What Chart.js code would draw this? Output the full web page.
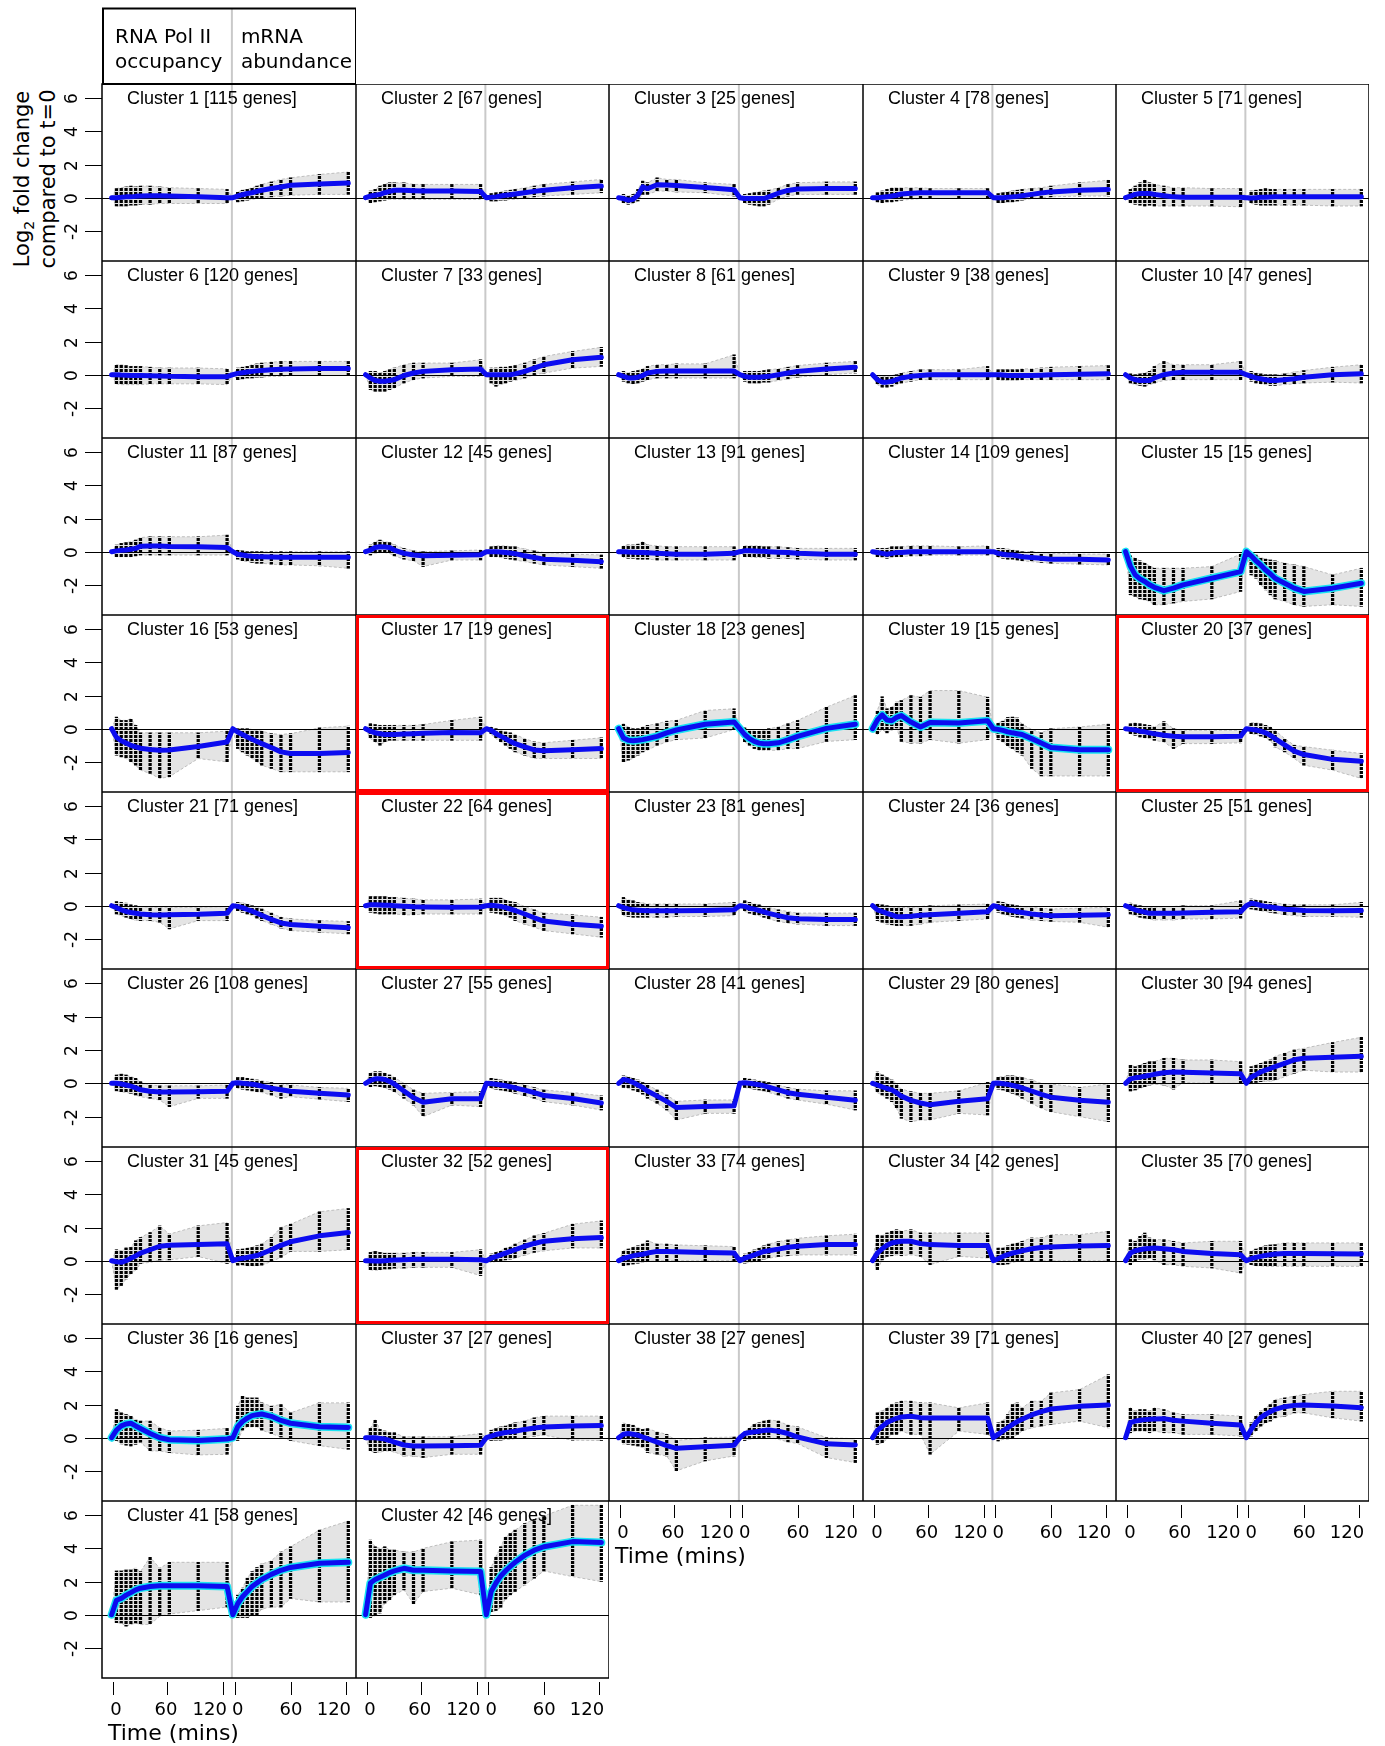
<!DOCTYPE html>
<html>
<head>
<meta charset="utf-8">
<script src="https://cdn.jsdelivr.net/npm/chart.js@4.4.1/dist/chart.umd.min.js"></script>
<style>
  body { margin: 0; background: #fff; width: 1385px; height: 1746px; position: relative; overflow: hidden; }
  canvas { position: absolute; }
  #ytitle {
    position: absolute; left: 35px; top: 179px;
    transform: translate(-50%, -50%) rotate(-90deg);
    font: 21px "DejaVu Sans", sans-serif; line-height: 26px;
    text-align: center; white-space: nowrap; color: #000;
  }
  #ytitle sub { font-size: 14px; line-height: 0; }
</style>
</head>
<body>
<div id="ytitle">Log<sub>2</sub> fold change<br>compared to t=0</div>
<script>
// sampling times (mins), same for Pol II occupancy and mRNA abundance
const sampleMinutes = [0, 5, 10, 15, 20, 25, 30, 40, 50, 60, 90, 120];
const mrnaShift = 126;   // mRNA block sits to the right of the Pol II block
const splitX = 125;      // grey divider between the two blocks

const geneCounts = [115, 67, 25, 78, 71, 120, 33, 61, 38, 47, 87, 45, 91, 109, 15, 53, 19, 23, 15, 37, 71,
  64, 81, 36, 51, 108, 55, 41, 80, 94, 45, 52, 74, 42, 70, 16, 27, 27, 71, 27, 58, 46];

// cluster mean log2 fold change: 12 Pol II values then 12 mRNA values
const meanFold = [
  [0, 0, 0.02, 0.05, 0.05, 0.08, 0.1, 0.12, 0.12, 0.1, 0.05, 0, 0, 0.1, 0.18, 0.25, 0.3, 0.38, 0.45, 0.55, 0.65, 0.75, 0.82, 0.88],
  [0, 0.1, 0.15, 0.2, 0.3, 0.38, 0.45, 0.45, 0.42, 0.4, 0.4, 0.38, 0, 0.02, 0.05, 0.1, 0.15, 0.18, 0.22, 0.3, 0.38, 0.45, 0.6, 0.7],
  [0, -0.05, -0.15, -0.1, 0.15, 0.65, 0.55, 0.78, 0.76, 0.74, 0.62, 0.48, 0, -0.05, -0.05, -0.05, -0.05, -0.05, 0.05, 0.27, 0.44, 0.52, 0.56, 0.56],
  [0, 0, 0.03, 0.05, 0.1, 0.15, 0.22, 0.27, 0.3, 0.3, 0.3, 0.3, 0, 0, 0, 0.02, 0.05, 0.08, 0.12, 0.2, 0.28, 0.35, 0.45, 0.5],
  [0, 0.1, 0.2, 0.25, 0.25, 0.25, 0.2, 0.12, 0.05, 0.03, 0.03, 0.03, 0, -0.02, 0, 0.02, 0.03, 0.04, 0.05, 0.05, 0.05, 0.05, 0.05, 0.05],
  [0, 0, -0.02, -0.03, -0.05, -0.05, -0.05, -0.07, -0.08, -0.1, -0.12, -0.12, 0, 0.08, 0.12, 0.16, 0.2, 0.23, 0.26, 0.3, 0.33, 0.35, 0.37, 0.37],
  [0, -0.2, -0.35, -0.4, -0.4, -0.35, -0.3, -0.05, 0.1, 0.2, 0.3, 0.35, 0, 0, 0, 0, 0, 0, 0.05, 0.2, 0.4, 0.6, 0.9, 1.05],
  [0, -0.1, -0.2, -0.2, -0.15, -0.05, 0.1, 0.2, 0.22, 0.22, 0.22, 0.22, 0, -0.1, -0.15, -0.15, -0.15, -0.12, -0.1, 0, 0.1, 0.2, 0.35, 0.45],
  [0, -0.3, -0.45, -0.45, -0.4, -0.3, -0.2, -0.1, -0.05, 0, 0, 0, 0, 0, -0.02, -0.05, -0.05, -0.05, -0.05, -0.05, -0.03, 0, 0.03, 0.05],
  [0, -0.2, -0.3, -0.35, -0.35, -0.35, -0.2, 0, 0.1, 0.15, 0.15, 0.15, 0, -0.1, -0.2, -0.25, -0.3, -0.35, -0.35, -0.3, -0.25, -0.15, 0, 0.05],
  [0, 0.05, 0.08, 0.1, 0.15, 0.2, 0.33, 0.35, 0.35, 0.32, 0.3, 0.25, 0, -0.15, -0.2, -0.25, -0.28, -0.3, -0.3, -0.32, -0.33, -0.33, -0.33, -0.33],
  [0, 0.1, 0.25, 0.3, 0.28, 0.25, 0.1, -0.1, -0.2, -0.25, -0.22, -0.18, 0, 0, 0, -0.02, -0.05, -0.08, -0.12, -0.25, -0.35, -0.45, -0.52, -0.6],
  [0, 0, -0.02, -0.03, -0.05, -0.05, -0.07, -0.1, -0.12, -0.15, -0.15, -0.1, 0, 0.05, 0.05, 0.04, 0.03, 0.02, 0, -0.03, -0.05, -0.1, -0.15, -0.15],
  [0, -0.05, -0.1, -0.15, -0.1, -0.05, -0.05, 0, 0, 0, 0, 0, 0, -0.1, -0.15, -0.2, -0.2, -0.25, -0.3, -0.35, -0.4, -0.45, -0.45, -0.5],
  [0, -0.87, -1.4, -1.64, -1.8, -2.0, -2.15, -2.35, -2.2, -2.0, -1.6, -1.2, 0, -0.25, -0.55, -0.8, -1.1, -1.33, -1.6, -1.9, -2.2, -2.4, -2.2, -1.9],
  [0, -0.52, -0.73, -0.87, -1.0, -1.1, -1.18, -1.25, -1.3, -1.28, -1.08, -0.8, 0, -0.2, -0.35, -0.5, -0.64, -0.77, -0.9, -1.14, -1.4, -1.5, -1.5, -1.43],
  [0, -0.15, -0.25, -0.3, -0.35, -0.35, -0.35, -0.32, -0.3, -0.27, -0.23, -0.25, 0, -0.1, -0.3, -0.45, -0.6, -0.77, -0.9, -1.1, -1.28, -1.33, -1.27, -1.2],
  [0, -0.56, -0.7, -0.73, -0.7, -0.66, -0.6, -0.46, -0.25, -0.08, 0.27, 0.41, 0, -0.35, -0.6, -0.77, -0.87, -0.91, -0.91, -0.85, -0.68, -0.46, 0.02, 0.27],
  [0, 0.52, 0.83, 0.52, 0.48, 0.68, 0.79, 0.4, 0.1, 0.37, 0.35, 0.48, 0, -0.04, -0.1, -0.19, -0.25, -0.3, -0.35, -0.6, -0.87, -1.14, -1.27, -1.27],
  [0, -0.04, -0.08, -0.15, -0.19, -0.25, -0.31, -0.39, -0.46, -0.48, -0.48, -0.46, 0, -0.04, -0.08, -0.15, -0.25, -0.39, -0.6, -0.98, -1.35, -1.56, -1.85, -1.97],
  [0, -0.12, -0.25, -0.35, -0.41, -0.46, -0.5, -0.54, -0.56, -0.54, -0.52, -0.46, 0, -0.04, -0.12, -0.23, -0.33, -0.46, -0.58, -0.83, -1.04, -1.14, -1.24, -1.33],
  [0, 0.06, 0.06, 0.04, 0.02, 0.02, 0, -0.04, -0.07, -0.08, -0.1, -0.08, 0, 0.02, 0, -0.04, -0.12, -0.2, -0.29, -0.5, -0.73, -0.93, -1.12, -1.24],
  [0, -0.12, -0.19, -0.25, -0.27, -0.29, -0.31, -0.31, -0.31, -0.3, -0.29, -0.25, 0, -0.04, -0.15, -0.21, -0.29, -0.37, -0.46, -0.6, -0.73, -0.79, -0.83, -0.83],
  [0, -0.25, -0.35, -0.46, -0.56, -0.66, -0.66, -0.64, -0.58, -0.54, -0.46, -0.37, 0, -0.08, -0.17, -0.25, -0.3, -0.37, -0.41, -0.5, -0.56, -0.6, -0.58, -0.54],
  [0, -0.12, -0.25, -0.33, -0.39, -0.46, -0.46, -0.46, -0.45, -0.44, -0.39, -0.37, 0, 0.15, 0.1, 0.02, -0.04, -0.08, -0.12, -0.21, -0.25, -0.29, -0.31, -0.29],
  [0, 0, -0.04, -0.1, -0.17, -0.27, -0.39, -0.48, -0.52, -0.52, -0.5, -0.48, 0, 0.04, 0, -0.02, -0.06, -0.1, -0.17, -0.29, -0.39, -0.48, -0.6, -0.7],
  [0, 0.17, 0.27, 0.27, 0.23, 0.12, -0.04, -0.46, -0.87, -1.14, -0.93, -0.93, 0, -0.02, -0.06, -0.1, -0.15, -0.2, -0.27, -0.41, -0.56, -0.73, -0.91, -1.18],
  [0, 0.23, 0.17, 0.06, -0.1, -0.25, -0.46, -0.77, -1.08, -1.45, -1.39, -1.35, 0, 0.04, 0, -0.04, -0.08, -0.15, -0.23, -0.39, -0.56, -0.66, -0.83, -1.02],
  [0, -0.1, -0.21, -0.31, -0.39, -0.56, -0.77, -1.02, -1.18, -1.29, -1.08, -0.93, 0, 0.02, -0.02, -0.06, -0.12, -0.19, -0.27, -0.46, -0.66, -0.83, -1.02, -1.14],
  [0, 0.27, 0.33, 0.37, 0.43, 0.48, 0.54, 0.64, 0.68, 0.66, 0.62, 0.58, 0, 0.37, 0.52, 0.68, 0.79, 0.89, 1.0, 1.2, 1.41, 1.51, 1.56, 1.62],
  [0, -0.06, -0.1, 0, 0.15, 0.29, 0.46, 0.66, 0.87, 0.93, 0.98, 1.02, 0, 0.1, 0.15, 0.19, 0.25, 0.31, 0.42, 0.66, 0.93, 1.14, 1.5, 1.7],
  [0, 0, -0.02, -0.02, 0, 0.02, 0.04, 0.06, 0.08, 0.08, 0.08, 0.06, 0, 0.15, 0.25, 0.35, 0.46, 0.56, 0.66, 0.87, 1.04, 1.18, 1.33, 1.4],
  [0, 0.15, 0.21, 0.29, 0.35, 0.39, 0.46, 0.56, 0.56, 0.54, 0.5, 0.46, 0, 0.15, 0.25, 0.35, 0.46, 0.56, 0.6, 0.7, 0.81, 0.87, 0.98, 0.98],
  [0, 0.46, 0.72, 0.93, 1.07, 1.13, 1.17, 1.17, 1.03, 0.97, 0.91, 0.91, 0, 0.12, 0.26, 0.36, 0.46, 0.52, 0.6, 0.72, 0.8, 0.82, 0.89, 0.91],
  [0, 0.46, 0.6, 0.66, 0.72, 0.74, 0.76, 0.72, 0.66, 0.56, 0.44, 0.36, 0, 0.12, 0.2, 0.26, 0.32, 0.36, 0.4, 0.44, 0.44, 0.44, 0.42, 0.4],
  [0, 0.46, 0.71, 0.83, 0.87, 0.71, 0.56, 0.25, 0, -0.12, -0.17, -0.08, 0, 0.66, 0.98, 1.18, 1.33, 1.39, 1.43, 1.29, 1.04, 0.87, 0.66, 0.62],
  [0, 0, 0, -0.04, -0.08, -0.17, -0.27, -0.44, -0.5, -0.5, -0.48, -0.46, 0, 0.1, 0.19, 0.25, 0.31, 0.35, 0.39, 0.5, 0.58, 0.64, 0.71, 0.73],
  [0, 0.21, 0.25, 0.21, 0.15, 0.04, -0.06, -0.27, -0.48, -0.64, -0.54, -0.46, 0, 0.25, 0.31, 0.35, 0.39, 0.44, 0.46, 0.39, 0.25, 0.04, -0.37, -0.44],
  [0, 0.44, 0.68, 0.91, 1.05, 1.17, 1.25, 1.29, 1.21, 1.19, 1.19, 1.19, 0, 0.2, 0.4, 0.6, 0.8, 0.97, 1.11, 1.37, 1.57, 1.73, 1.89, 1.97],
  [0, 0.91, 1.0, 1.05, 1.09, 1.11, 1.13, 1.15, 1.05, 1.0, 0.87, 0.76, 0, 0.5, 0.9, 1.21, 1.41, 1.57, 1.71, 1.87, 1.95, 1.97, 1.91, 1.81],
  [0, 0.87, 0.98, 1.18, 1.33, 1.5, 1.6, 1.7, 1.75, 1.75, 1.75, 1.7, 0, 0.66, 1.08, 1.39, 1.7, 1.91, 2.12, 2.43, 2.68, 2.85, 3.1, 3.16],
  [0, 1.91, 2.12, 2.26, 2.39, 2.54, 2.64, 2.8, 2.68, 2.68, 2.64, 2.6, 0, 1.39, 1.91, 2.33, 2.64, 2.91, 3.16, 3.58, 3.89, 4.1, 4.41, 4.35]
];

// lowest gene value at each sample
const lowFold = [
  [0, -0.5, -0.5, -0.5, -0.45, -0.45, -0.4, -0.4, -0.35, -0.35, -0.35, -0.35, 0, -0.25, -0.2, -0.15, -0.1, -0.05, 0, 0.05, 0.1, 0.15, 0.2, 0.2],
  [0, -0.3, -0.25, -0.2, -0.15, -0.1, -0.1, -0.1, -0.1, -0.1, -0.1, -0.1, 0, -0.2, -0.2, -0.15, -0.15, -0.1, -0.1, 0, 0.05, 0.1, 0.2, 0.3],
  [0, -0.3, -0.4, -0.35, -0.2, 0.2, 0.2, 0.4, 0.4, 0.35, 0.3, 0.1, 0, -0.3, -0.4, -0.45, -0.5, -0.5, -0.4, -0.1, 0.1, 0.2, 0.2, 0.2],
  [0, -0.25, -0.3, -0.25, -0.25, -0.2, -0.15, -0.1, -0.05, -0.05, -0.05, -0.05, 0, -0.3, -0.3, -0.25, -0.25, -0.2, -0.15, -0.05, 0, 0.05, 0.1, 0.1],
  [0, -0.3, -0.4, -0.45, -0.5, -0.45, -0.5, -0.5, -0.5, -0.5, -0.5, -0.55, 0, -0.35, -0.4, -0.45, -0.45, -0.45, -0.45, -0.45, -0.45, -0.45, -0.5, -0.5],
  [0, -0.55, -0.6, -0.6, -0.6, -0.6, -0.6, -0.55, -0.55, -0.55, -0.55, -0.6, 0, -0.3, -0.25, -0.2, -0.2, -0.15, -0.15, -0.1, -0.1, -0.05, -0.05, -0.05],
  [0, -0.9, -1.0, -1.0, -1.0, -0.9, -0.8, -0.5, -0.3, -0.2, -0.1, -0.1, 0, -0.5, -0.7, -0.6, -0.5, -0.4, -0.35, -0.2, 0, 0.1, 0.4, 0.5],
  [0, -0.4, -0.5, -0.55, -0.5, -0.4, -0.3, -0.2, -0.2, -0.2, -0.2, -0.2, 0, -0.4, -0.5, -0.5, -0.5, -0.45, -0.45, -0.35, -0.25, -0.15, 0, 0.1],
  [0, -0.6, -0.75, -0.75, -0.7, -0.6, -0.5, -0.4, -0.3, -0.3, -0.3, -0.3, 0, -0.3, -0.35, -0.35, -0.35, -0.35, -0.3, -0.3, -0.3, -0.3, -0.3, -0.3],
  [0, -0.5, -0.6, -0.65, -0.7, -0.6, -0.5, -0.35, -0.3, -0.3, -0.3, -0.3, 0, -0.4, -0.5, -0.55, -0.6, -0.65, -0.65, -0.6, -0.55, -0.5, -0.45, -0.5],
  [0, -0.3, -0.3, -0.3, -0.3, -0.25, -0.2, -0.2, -0.2, -0.2, -0.2, -0.2, 0, -0.45, -0.55, -0.6, -0.65, -0.7, -0.7, -0.75, -0.8, -0.8, -0.85, -1.0],
  [0, -0.2, -0.1, -0.05, -0.05, -0.1, -0.25, -0.45, -0.55, -0.9, -0.5, -0.5, 0, -0.3, -0.3, -0.35, -0.4, -0.45, -0.5, -0.6, -0.7, -0.8, -0.9, -1.0],
  [0, -0.35, -0.4, -0.4, -0.45, -0.45, -0.45, -0.5, -0.5, -0.5, -0.5, -0.5, 0, -0.3, -0.3, -0.35, -0.35, -0.35, -0.4, -0.4, -0.4, -0.45, -0.5, -0.5],
  [0, -0.3, -0.35, -0.4, -0.35, -0.3, -0.3, -0.25, -0.25, -0.2, -0.2, -0.2, 0, -0.35, -0.4, -0.45, -0.45, -0.5, -0.55, -0.6, -0.65, -0.7, -0.75, -0.8],
  [0, -2.6, -2.7, -2.85, -2.9, -3.0, -3.2, -3.2, -3.1, -3.0, -2.85, -2.4, 0, -1.4, -1.6, -2.0, -2.3, -2.6, -2.85, -3.0, -3.2, -3.3, -3.2, -3.3],
  [0, -1.6, -1.7, -1.8, -2.0, -2.2, -2.5, -2.7, -3.0, -2.9, -1.8, -2.0, 0, -1.2, -1.4, -1.6, -1.8, -2.0, -2.2, -2.4, -2.6, -2.6, -2.6, -2.6],
  [0, -0.6, -0.8, -1.0, -0.8, -0.7, -0.7, -0.7, -0.7, -0.7, -0.7, -0.7, 0, -0.35, -0.6, -0.8, -1.0, -1.2, -1.4, -1.6, -1.8, -1.8, -1.8, -1.8],
  [0, -2.0, -1.9, -1.8, -1.6, -1.4, -1.3, -1.0, -0.8, -0.66, -0.56, -0.05, 0, -0.8, -1.0, -1.2, -1.3, -1.3, -1.3, -1.3, -1.2, -1.2, -0.77, -0.66],
  [0, -0.35, -0.05, -0.25, -0.1, 0.05, -0.77, -0.87, -0.87, -0.66, -0.87, -0.66, 0, -0.66, -0.8, -1.08, -1.2, -1.4, -1.6, -2.4, -2.85, -2.85, -2.85, -2.85],
  [0, -0.3, -0.4, -0.5, -0.55, -0.6, -0.7, -0.8, -1.2, -0.9, -0.9, -0.85, 0, -0.3, -0.35, -0.45, -0.55, -0.7, -1.1, -1.4, -1.8, -2.2, -2.5, -3.0],
  [0, -0.5, -0.6, -0.7, -0.8, -0.85, -0.9, -0.9, -1.0, -1.4, -0.9, -0.9, 0, -0.3, -0.4, -0.5, -0.6, -0.75, -0.9, -1.1, -1.35, -1.5, -1.6, -1.7],
  [0, -0.4, -0.45, -0.5, -0.5, -0.5, -0.5, -0.55, -0.55, -0.5, -0.5, -0.5, 0, -0.4, -0.45, -0.5, -0.6, -0.7, -0.9, -1.1, -1.3, -1.5, -1.7, -1.9],
  [0, -0.6, -0.65, -0.7, -0.7, -0.7, -0.7, -0.7, -0.7, -0.65, -0.65, -0.6, 0, -0.35, -0.45, -0.55, -0.6, -0.7, -0.8, -0.95, -1.05, -1.1, -1.2, -1.2],
  [0, -0.9, -1.0, -1.1, -1.15, -1.2, -1.2, -1.2, -1.1, -1.0, -0.9, -0.8, 0, -0.4, -0.5, -0.6, -0.65, -0.7, -0.75, -0.85, -0.9, -0.95, -1.0, -1.3],
  [0, -0.5, -0.6, -0.7, -0.75, -0.8, -0.85, -0.85, -0.85, -0.8, -0.8, -0.75, 0, -0.2, -0.25, -0.3, -0.35, -0.4, -0.45, -0.55, -0.6, -0.65, -0.65, -0.7],
  [0, -0.45, -0.5, -0.55, -0.6, -0.7, -0.8, -0.9, -1.0, -1.4, -0.9, -0.9, 0, -0.3, -0.35, -0.4, -0.45, -0.5, -0.55, -0.7, -0.9, -0.8, -0.95, -1.1],
  [0, -0.2, -0.15, -0.2, -0.25, -0.35, -0.5, -0.9, -1.3, -2.0, -1.3, -1.4, 0, -0.3, -0.35, -0.4, -0.45, -0.5, -0.6, -0.75, -0.9, -1.1, -1.3, -1.6],
  [0, -0.25, -0.3, -0.4, -0.5, -0.65, -0.9, -1.2, -1.6, -2.2, -1.8, -1.8, 0, -0.25, -0.3, -0.35, -0.4, -0.45, -0.55, -0.7, -0.9, -1.0, -1.25, -1.6],
  [0, -0.56, -0.7, -0.9, -1.1, -1.5, -2.1, -2.3, -2.2, -2.2, -1.8, -1.9, 0, -0.35, -0.4, -0.5, -0.6, -0.7, -0.9, -1.2, -1.5, -1.7, -2.0, -2.3],
  [0, -0.46, -0.4, -0.3, -0.2, -0.1, -0.05, -0.1, -0.35, 0.05, 0, 0, 0, -0.05, 0.05, 0.1, 0.15, 0.15, 0.17, 0.4, 0.6, 0.79, 0.68, 0.68],
  [0, -1.73, -1.5, -1.1, -0.8, -0.58, -0.17, -0.1, 0.04, 0.05, 0.25, -0.17, 0, -0.27, -0.25, -0.3, -0.3, -0.3, -0.27, -0.05, 0.2, 0.56, 0.56, 0.66],
  [0, -0.55, -0.58, -0.55, -0.5, -0.5, -0.45, -0.45, -0.4, -0.4, -0.4, -0.9, 0, -0.1, -0.05, 0, 0.05, 0.1, 0.15, 0.35, 0.5, 0.6, 0.77, 0.77],
  [0, -0.3, -0.25, -0.2, -0.15, -0.1, -0.05, 0, 0, 0, 0, 0, 0, -0.15, -0.1, -0.05, 0, 0.1, 0.15, 0.25, 0.3, 0.35, 0.35, 0.35],
  [0, -0.54, 0.05, 0.26, 0.3, 0.36, 0.3, 0.36, 0.26, -0.24, 0.26, 0.16, 0, -0.24, -0.24, -0.2, -0.1, -0.04, 0, 0, 0, 0, 0, 0],
  [0, -0.24, 0, 0.1, 0.1, 0.15, 0.05, -0.24, -0.24, -0.34, -0.44, -0.74, 0, -0.24, -0.3, -0.3, -0.34, -0.34, -0.34, -0.34, -0.34, -0.34, -0.34, -0.34],
  [0, -0.17, -0.37, -0.45, -0.5, -0.4, -0.27, -0.8, -0.8, -0.9, -1.04, -1.0, 0, -0.17, 0.46, 0.66, 0.66, 0.66, 0.46, 0.25, 0.04, -0.17, -0.48, -0.7],
  [0, -0.8, -0.9, -0.85, -0.8, -0.8, -0.85, -1.1, -1.1, -1.2, -1.0, -1.0, 0, -0.17, -0.15, -0.15, -0.1, -0.1, -0.05, 0, 0.1, 0.15, -0.15, -0.17],
  [0, -0.37, -0.4, -0.45, -0.5, -0.6, -0.9, -1.0, -1.1, -2.0, -1.4, -1.1, 0, -0.17, -0.1, -0.05, 0, 0, 0.04, -0.1, -0.25, -0.35, -1.2, -1.5],
  [0, -0.4, -0.3, -0.1, 0.2, 0.2, 0.4, 0.2, 0.2, -1.0, 0.4, 0.2, 0, -0.2, -0.1, -0.1, 0, 0.2, 0.4, 0.6, 0.7, 0.8, 1.0, 0.6],
  [0, 0.3, 0.4, 0.4, 0.4, 0.3, 0.4, 0.3, 0.3, 0.2, 0.2, 0.1, 0, 0.1, 0.4, 0.7, 0.9, 1.0, 1.2, 1.3, 1.5, 1.5, 1.2, 1.0],
  [0, -0.48, -0.5, -0.69, -0.6, -0.5, -0.6, -0.58, -0.1, 0.04, 0.25, 0.46, 0, -0.17, -0.17, -0.17, -0.05, -0.05, 0.35, 0.46, 0.46, 0.98, 0.77, 0.77],
  [0, -0.17, -0.06, 0.1, 0.7, 0.9, 1.2, 1.5, 0.66, 1.4, 1.6, 1.2, 0, 0.15, 0.25, 0.45, 0.95, 1.2, 1.4, 1.8, 2.2, 2.64, 2.3, 2.0]
];

// highest gene value at each sample
const highFold = [
  [0, 0.55, 0.6, 0.65, 0.7, 0.65, 0.7, 0.7, 0.65, 0.6, 0.55, 0.5, 0, 0.35, 0.45, 0.5, 0.6, 0.7, 0.8, 0.95, 1.1, 1.2, 1.4, 1.55],
  [0, 0.4, 0.5, 0.7, 0.8, 0.9, 0.9, 0.9, 0.8, 0.8, 0.8, 0.8, 0, 0.25, 0.3, 0.35, 0.4, 0.45, 0.5, 0.6, 0.7, 0.8, 0.95, 1.1],
  [0, 0.2, 0.1, 0.2, 0.5, 1.0, 0.9, 1.2, 1.1, 1.1, 0.9, 0.8, 0, 0.2, 0.25, 0.3, 0.35, 0.4, 0.45, 0.6, 0.8, 0.9, 0.95, 0.95],
  [0, 0.3, 0.4, 0.5, 0.6, 0.6, 0.6, 0.6, 0.6, 0.55, 0.55, 0.55, 0, 0.25, 0.3, 0.35, 0.4, 0.45, 0.5, 0.55, 0.6, 0.7, 0.9, 1.05],
  [0, 0.5, 0.7, 0.9, 1.05, 0.9, 0.8, 0.7, 0.6, 0.6, 0.55, 0.55, 0, 0.4, 0.45, 0.5, 0.55, 0.5, 0.5, 0.5, 0.5, 0.5, 0.5, 0.5],
  [0, 0.6, 0.6, 0.55, 0.5, 0.5, 0.5, 0.45, 0.4, 0.4, 0.4, 0.35, 0, 0.4, 0.45, 0.5, 0.6, 0.65, 0.7, 0.75, 0.8, 0.8, 0.8, 0.8],
  [0, 0.2, 0.2, 0.1, 0.2, 0.3, 0.4, 0.6, 0.7, 0.7, 0.7, 0.9, 0, 0.4, 0.4, 0.45, 0.45, 0.5, 0.55, 0.7, 0.9, 1.1, 1.4, 1.65],
  [0, 0.2, 0.1, 0.2, 0.25, 0.35, 0.5, 0.6, 0.6, 0.65, 0.65, 1.2, 0, 0.2, 0.2, 0.2, 0.2, 0.25, 0.3, 0.35, 0.45, 0.55, 0.7, 0.8],
  [0, -0.05, -0.1, -0.1, -0.05, 0, 0.1, 0.2, 0.3, 0.3, 0.3, 0.5, 0, 0.3, 0.3, 0.3, 0.3, 0.3, 0.35, 0.35, 0.4, 0.45, 0.5, 0.55],
  [0, 0.05, 0, 0.05, 0.1, 0.2, 0.5, 0.8, 0.6, 0.6, 0.6, 0.8, 0, 0.2, 0.1, 0.05, 0, 0, 0, 0.05, 0.15, 0.25, 0.45, 0.6],
  [0, 0.4, 0.5, 0.55, 0.6, 0.7, 0.85, 0.9, 0.9, 0.9, 0.9, 1.0, 0, 0.1, 0.05, 0, 0, 0, 0, 0, 0, 0, 0, 0],
  [0, 0.4, 0.6, 0.7, 0.6, 0.55, 0.4, 0.2, 0.05, 0, 0.05, 0.1, 0, 0.3, 0.35, 0.35, 0.35, 0.3, 0.3, 0.15, 0.05, -0.05, -0.15, -0.2],
  [0, 0.35, 0.4, 0.4, 0.45, 0.6, 0.4, 0.35, 0.3, 0.3, 0.3, 0.3, 0, 0.35, 0.35, 0.35, 0.35, 0.3, 0.3, 0.3, 0.25, 0.2, 0.2, 0.2],
  [0, 0.2, 0.2, 0.2, 0.3, 0.3, 0.3, 0.35, 0.35, 0.35, 0.3, 0.35, 0, 0.2, 0.2, 0.15, 0.1, 0.05, 0, 0, -0.05, -0.1, -0.15, -0.15],
  [0, -0.25, -0.4, -0.55, -0.7, -0.85, -1.0, -1.0, -1.0, -1.0, -0.9, -0.15, 0, -0.15, -0.2, -0.35, -0.45, -0.5, -0.55, -0.7, -0.8, -0.9, -1.4, -1.0],
  [0, 0.7, 0.5, 0.5, 0.6, 0.2, -0.25, -0.25, -0.25, -0.25, -0.25, -0.15, 0, 0, 0, 0, -0.05, -0.1, -0.15, -0.3, -0.35, -0.3, 0.05, 0.15],
  [0, 0.3, 0.25, 0.2, 0.2, 0.2, 0.2, 0.2, 0.2, 0.25, 0.5, 0.7, 0, 0.1, 0, -0.1, -0.2, -0.25, -0.35, -0.6, -0.8, -0.85, -0.7, -0.55],
  [0, 0.27, 0.1, 0, 0, 0.1, 0.2, 0.3, 0.45, 0.5, 1.1, 1.2, 0, 0.05, -0.1, -0.15, -0.15, -0.1, 0, 0.1, 0.3, 0.5, 1.3, 2.0],
  [0, 1.1, 1.93, 1.2, 1.3, 1.6, 1.7, 2.0, 1.9, 2.3, 2.3, 1.9, 0, 0.37, 0.45, 0.68, 0.7, 0.65, 0.27, -0.04, -0.25, 0, 0.1, 0.27],
  [0, 0.3, 0.35, 0.3, 0.25, 0.2, 0.1, 0.43, 0, -0.1, -0.1, -0.1, 0, 0.37, 0.35, 0.3, 0.2, 0.1, -0.1, -0.6, -1.0, -1.08, -1.3, -1.5],
  [0, 0.25, 0.2, 0.15, 0.05, 0, -0.05, -0.1, -0.1, -0.1, -0.1, -0.05, 0, 0.2, 0.15, 0.1, 0, -0.1, -0.2, -0.45, -0.7, -0.8, -0.9, -0.95],
  [0, 0.55, 0.55, 0.55, 0.55, 0.5, 0.5, 0.45, 0.4, 0.35, 0.35, 0.4, 0, 0.45, 0.45, 0.45, 0.35, 0.25, 0.2, -0.05, -0.25, -0.45, -0.55, -0.7],
  [0, 0.5, 0.35, 0.3, 0.2, 0.15, 0.1, 0.1, 0.1, 0.1, 0.1, 0.2, 0, 0.3, 0.2, 0.1, 0.05, -0.05, -0.1, -0.25, -0.35, -0.45, -0.45, -0.45],
  [0, 0.1, 0.05, 0, -0.05, -0.1, -0.1, -0.1, -0.05, 0, 0.05, 0.1, 0, 0.25, 0.2, 0.1, 0.05, 0, -0.05, -0.1, -0.15, -0.2, -0.15, -0.1],
  [0, 0.15, 0.05, 0, -0.05, -0.1, -0.1, -0.05, -0.05, 0, 0, 0.3, 0, 0.4, 0.35, 0.3, 0.25, 0.2, 0.15, 0.1, 0.05, 0.05, 0.05, 0.2],
  [0, 0.5, 0.55, 0.5, 0.4, 0.3, 0.1, -0.1, -0.15, -0.15, -0.15, -0.1, 0, 0.35, 0.35, 0.3, 0.25, 0.2, 0.15, 0.05, -0.05, -0.1, -0.25, -0.3],
  [0, 0.6, 0.7, 0.7, 0.6, 0.5, 0.35, 0, -0.4, -0.6, -0.55, -0.5, 0, 0.3, 0.25, 0.2, 0.15, 0.1, 0.05, -0.1, -0.25, -0.4, -0.55, -0.75],
  [0, 0.45, 0.4, 0.3, 0.2, 0.05, -0.1, -0.4, -0.7, -1.08, -1.0, -1.0, 0, 0.3, 0.25, 0.2, 0.15, 0.1, 0.05, -0.1, -0.25, -0.35, -0.45, -0.45],
  [0, 0.68, 0.5, 0.35, 0.2, 0, -0.35, -0.5, -0.6, -0.6, -0.45, 0.06, 0, 0.37, 0.4, 0.45, 0.45, 0.4, 0.35, 0.2, 0, -0.04, -0.25, -0.04],
  [0, 1.1, 1.0, 1.1, 1.2, 1.3, 1.3, 1.5, 1.5, 1.4, 1.4, 1.3, 0, 1.0, 1.1, 1.2, 1.3, 1.4, 1.62, 1.8, 2.0, 2.1, 2.45, 2.76],
  [0, 0.66, 0.6, 0.77, 0.8, 1.2, 1.4, 1.7, 2.1, 1.6, 2.1, 2.3, 0, 0.66, 0.7, 0.75, 0.8, 0.9, 1.0, 1.4, 2.0, 2.2, 2.95, 3.15],
  [0, 0.5, 0.56, 0.5, 0.45, 0.45, 0.45, 0.45, 0.5, 0.5, 0.5, 0.66, 0, 0.4, 0.5, 0.6, 0.75, 0.85, 1.0, 1.25, 1.5, 1.65, 2.2, 2.4],
  [0, 0.6, 0.7, 0.8, 0.9, 1.0, 1.2, 1.0, 1.0, 0.95, 0.9, 0.85, 0, 0.4, 0.5, 0.65, 0.75, 0.9, 1.0, 1.15, 1.25, 1.35, 1.5, 1.6],
  [0, 1.57, 1.5, 1.67, 1.77, 1.87, 1.77, 1.87, 1.67, 1.67, 1.67, 1.67, 0, 0.76, 0.76, 0.9, 1.0, 1.07, 1.17, 1.37, 1.37, 1.57, 1.57, 1.77],
  [0, 1.27, 1.17, 1.47, 1.67, 1.37, 1.27, 1.27, 1.17, 1.07, 1.17, 1.17, 0, 0.56, 0.7, 0.8, 0.9, 0.95, 0.97, 1.07, 1.07, 1.07, 1.07, 1.07],
  [0, 1.7, 1.5, 1.4, 1.3, 1.1, 1.0, 1.0, 0.6, 0.4, 0.45, 0.56, 0, 1.9, 2.5, 2.4, 2.4, 2.4, 2.1, 1.9, 2.0, 1.5, 2.1, 2.1],
  [0, 0.56, 1.08, 0.5, 0.4, 0.3, 0.3, 0.05, 0.05, 0.05, 0.05, 0.25, 0, 0.45, 0.55, 0.65, 0.7, 0.8, 0.9, 1.0, 1.2, 1.3, 1.3, 1.3],
  [0, 0.87, 0.8, 0.75, 0.6, 0.5, 0.55, 0.35, 0.2, -0.17, 0, 0.04, 0, 0.35, 0.6, 0.8, 0.9, 1.0, 1.08, 1.0, 0.75, 0.65, 0, -0.06],
  [0, 1.5, 1.6, 1.8, 2.0, 2.1, 2.2, 2.2, 2.1, 2.1, 1.8, 2.1, 0, 0.9, 1.0, 1.4, 2.0, 2.1, 1.8, 2.2, 2.2, 2.7, 2.9, 3.8],
  [0, 1.81, 1.6, 1.7, 1.7, 1.6, 1.8, 1.7, 1.5, 1.4, 1.4, 1.3, 0, 0.9, 1.3, 1.6, 1.8, 2.0, 2.3, 2.4, 2.5, 2.6, 2.8, 2.8],
  [0, 2.64, 2.64, 2.7, 2.7, 2.8, 2.6, 3.47, 2.8, 3.16, 3.16, 3.16, 0, 1.18, 1.6, 2.2, 2.6, 2.85, 3.05, 3.25, 3.78, 4.1, 5.1, 5.65],
  [0, 4.5, 4.1, 4.0, 4.1, 3.9, 3.9, 3.78, 3.78, 4.0, 4.4, 4.5, 0, 2.85, 3.5, 4.1, 4.7, 4.9, 5.1, 5.5, 5.75, 5.96, 6.6, 6.6]
];

const highlighted = [17, 20, 22, 32];        // red frames
const cyanTraced = [15, 18, 19, 36, 41, 42];  // centroid trace shows under the mean
const timeAxisPanels = [38, 39, 40, 41, 42];
const timeTitlePanels = [38, 41];

const yTickValues = [-2, 0, 2, 4, 6];
const xTickPos = [1.5, 58, 116, 128, 186, 244];
const xLabelPos = [4.5, 56.5, 102, 131, 186.5, 231];
const xTickLabels = ['0', '60', '120', '0', '60', '120'];

const colEdges = [102, 356, 609, 863, 1116, 1369];
const rowEdges = [84, 261, 438, 615, 792, 969, 1147, 1324, 1501, 1678];

const xPos = sampleMinutes.concat(sampleMinutes.map(t => t + mrnaShift));
const toPoints = vals => vals.map((v, i) => ({ x: xPos[i], y: v }));

Chart.defaults.font.family = '"DejaVu Sans", sans-serif';

// small tile so the per-sample columns read as stacked dots
const dotTile = document.createElement('canvas');
dotTile.width = 4;
dotTile.height = 4;
const tileCtx = dotTile.getContext('2d');
tileCtx.fillStyle = '#000';
tileCtx.fillRect(0, 0, 4, 3);

function panelDecor(n) {
  const col = (n - 1) % 5;
  return {
    id: 'panelDecor',
    beforeDatasetsDraw(chart) {
      const { ctx, chartArea: a, scales: { x } } = chart;
      const xd = x.getPixelForValue(splitX);
      ctx.save();
      ctx.strokeStyle = '#c9c9c9';
      ctx.lineWidth = 2;
      ctx.beginPath();
      ctx.moveTo(xd, a.top);
      ctx.lineTo(xd, a.bottom);
      ctx.stroke();
      ctx.restore();
    },
    beforeDatasetDraw(chart, args) {
      if (args.index !== 2) return;
      // zero line goes over the grey spread, under dots and mean
      const { ctx, chartArea: a, scales: { y } } = chart;
      const y0 = Math.round(y.getPixelForValue(0)) + 0.5;
      ctx.save();
      ctx.strokeStyle = '#000';
      ctx.lineWidth = 1.2;
      ctx.beginPath();
      ctx.moveTo(a.left, y0);
      ctx.lineTo(a.right, y0);
      ctx.stroke();
      ctx.restore();
    },
    afterDraw(chart) {
      const { ctx, chartArea: a, scales: { x, y } } = chart;
      ctx.save();

      ctx.fillStyle = '#000';
      ctx.font = '18px "Liberation Sans", Arial, sans-serif';
      ctx.textAlign = 'left';
      ctx.textBaseline = 'alphabetic';
      ctx.fillText('Cluster ' + n + ' [' + geneCounts[n - 1] + ' genes]', a.left + 25, a.top + 19.5);

      ctx.strokeStyle = '#000';
      ctx.lineWidth = 1.5;
      ctx.strokeRect(a.left, a.top, a.right - a.left, a.bottom - a.top);

      if (highlighted.includes(n)) {
        ctx.strokeStyle = '#ff0000';
        ctx.lineWidth = 3;
        ctx.strokeRect(a.left + 1.5, a.top + 1.5, a.right - a.left - 3, a.bottom - a.top - 3);
      }

      if (col === 0) {
        ctx.strokeStyle = '#000';
        ctx.lineWidth = 1;
        ctx.font = '17px "DejaVu Sans", sans-serif';
        ctx.textAlign = 'center';
        ctx.textBaseline = 'middle';
        yTickValues.forEach(v => {
          const py = Math.round(y.getPixelForValue(v)) + 0.5;
          ctx.beginPath();
          ctx.moveTo(a.left - 17, py);
          ctx.lineTo(a.left, py);
          ctx.stroke();
          ctx.save();
          ctx.translate(a.left - 29, py);
          ctx.rotate(-Math.PI / 2);
          ctx.fillText(String(v), 0, 0);
          ctx.restore();
        });
      }

      if (timeAxisPanels.includes(n)) {
        ctx.strokeStyle = '#000';
        ctx.lineWidth = 1;
        xTickPos.forEach(v => {
          const px = Math.round(x.getPixelForValue(v)) + 0.5;
          ctx.beginPath();
          ctx.moveTo(px, a.bottom + 4);
          ctx.lineTo(px, a.bottom + 17);
          ctx.stroke();
        });
        ctx.font = '18px "DejaVu Sans", sans-serif';
        ctx.textAlign = 'center';
        ctx.textBaseline = 'middle';
        xLabelPos.forEach((v, i) => ctx.fillText(xTickLabels[i], x.getPixelForValue(v), a.bottom + 32));
        if (timeTitlePanels.includes(n)) {
          ctx.font = '22px "DejaVu Sans", sans-serif';
          ctx.textAlign = 'left';
          ctx.fillText('Time (mins)', a.left + 6, a.bottom + 56);
        }
      }

      if (n === 1) {
        // header box naming the two blocks
        const xd = x.getPixelForValue(splitX);
        ctx.strokeStyle = '#c9c9c9';
        ctx.lineWidth = 2;
        ctx.beginPath();
        ctx.moveTo(xd, 9);
        ctx.lineTo(xd, a.top);
        ctx.stroke();
        ctx.strokeStyle = '#000';
        ctx.lineWidth = 2;
        ctx.strokeRect(a.left + 1, 8.5, a.right - a.left - 1, a.top - 8.5);
        ctx.font = '20px "DejaVu Sans", sans-serif';
        ctx.textAlign = 'left';
        ctx.textBaseline = 'alphabetic';
        ctx.fillText('RNA Pol II', a.left + 13, 43);
        ctx.fillText('occupancy', a.left + 13, 68);
        ctx.fillText('mRNA', xd + 9, 43);
        ctx.fillText('abundance', xd + 9, 68);
      }
      ctx.restore();
    }
  };
}

geneCounts.forEach((genes, k) => {
  const n = k + 1;
  const r = Math.floor(k / 5), c = k % 5;
  const pad = {
    left: c === 0 ? colEdges[0] : 0,
    top: n === 1 ? rowEdges[0] : 0,
    right: 0,
    bottom: timeAxisPanels.includes(n) ? 68 : 0
  };
  const w = colEdges[c + 1] - colEdges[c] + pad.left;
  const h = rowEdges[r + 1] - rowEdges[r] + pad.top + pad.bottom;
  const canvas = document.createElement('canvas');
  canvas.width = w;
  canvas.height = h;
  canvas.style.left = (colEdges[c] - pad.left) + 'px';
  canvas.style.top = (rowEdges[r] - pad.top) + 'px';
  canvas.style.width = w + 'px';
  canvas.style.height = h + 'px';
  document.body.appendChild(canvas);
  const dots = canvas.getContext('2d').createPattern(dotTile, 'repeat');

  const low = lowFold[k], high = highFold[k], mean = meanFold[k];
  const datasets = [
    { data: toPoints(low), borderColor: '#bdbdbd', borderWidth: 1, borderDash: [3, 2],
      pointRadius: 0, fill: false, order: 5, clip: 0 },
    { data: toPoints(high), borderColor: '#bdbdbd', borderWidth: 1, borderDash: [3, 2],
      pointRadius: 0, fill: '-1', backgroundColor: 'rgba(188,188,188,0.4)', order: 4, clip: 0 },
    { type: 'bar', data: xPos.map((x, i) => ({ x, y: [low[i], high[i]] })),
      backgroundColor: dots, barThickness: 2.6, grouped: false, order: 3, clip: 0 },
    { data: toPoints(mean), borderColor: cyanTraced.includes(n) ? '#19e3f2' : 'rgba(0,0,0,0)',
      borderWidth: 8, pointRadius: 0, fill: false, order: 2, clip: 0,
      borderJoinStyle: 'round', borderCapStyle: 'round' },
    { data: toPoints(mean), borderColor: '#0c0cf0', borderWidth: 5, pointRadius: 0,
      fill: false, order: 1, clip: 0, borderJoinStyle: 'round', borderCapStyle: 'round' }
  ];

  new Chart(canvas, {
    type: 'line',
    data: { datasets },
    options: {
      responsive: false,
      animation: false,
      events: [],
      devicePixelRatio: 1,
      layout: { padding: pad },
      elements: { line: { tension: 0 } },
      plugins: { legend: { display: false }, tooltip: { enabled: false } },
      scales: {
        x: { type: 'linear', min: -10, max: 254, display: false, offset: false },
        y: { type: 'linear', min: -3.82, max: 6.86, display: false }
      }
    },
    plugins: [panelDecor(n)]
  });
});
</script>
</body>
</html>
